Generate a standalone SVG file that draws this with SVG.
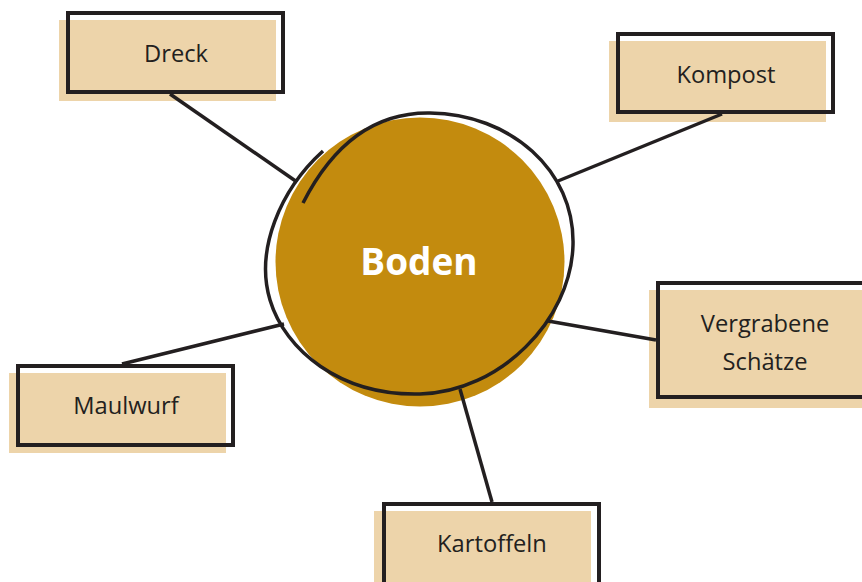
<svg xmlns="http://www.w3.org/2000/svg" width="862" height="582" viewBox="0 0 862 582">
<style>
.bg{fill:#EDD4AA}
.ol{fill:none;stroke:#231F20;stroke-width:4}
.t{font-family:"Open Sans","Liberation Sans",sans-serif;font-size:23.7px;fill:#231F20;text-anchor:middle}
.c{stroke:#231F20;stroke-width:3.5;fill:none}
</style>
<rect width="862" height="582" fill="#fff"/>
<g id="boden">
<circle cx="420" cy="262" r="144.5" fill="#C38B0E"/>
<path class="c" d="M303,203 C330,150 370,112 430,113 C510,114 575,170 573,245 C571,320 500,392 420,394 C340,396 285,350 270,300 C255,250 280,190 323,151"/>
<text x="419" y="275" font-family="'Open Sans','Liberation Sans',sans-serif" font-size="37" font-weight="bold" fill="#fff" text-anchor="middle">Boden</text>
</g>
<g id="dreck">
<rect class="bg" x="59" y="20" width="217" height="81"/>
<rect class="ol" x="68" y="13" width="215" height="79"/>
<text class="t" x="176" y="62">Dreck</text>
</g>
<g id="kompost">
<rect class="bg" x="609" y="41" width="217" height="81"/>
<rect class="ol" x="618" y="34" width="215" height="78"/>
<text class="t" x="726" y="83">Kompost</text>
</g>
<g id="vergrabene">
<rect class="bg" x="649" y="290" width="217" height="118"/>
<rect class="ol" x="658" y="283" width="215" height="114"/>
<text class="t" x="765" y="332">Vergrabene</text>
<text class="t" x="765" y="370">Schätze</text>
</g>
<g id="maulwurf">
<rect class="bg" x="9" y="373" width="217" height="80"/>
<rect class="ol" x="18" y="366" width="215" height="79"/>
<text class="t" x="126" y="414">Maulwurf</text>
</g>
<g id="kartoffeln">
<rect class="bg" x="374" y="511" width="217" height="80"/>
<rect class="ol" x="384" y="504" width="215" height="90"/>
<text class="t" x="492" y="552">Kartoffeln</text>
</g>
<g id="connectors">
<line class="c" x1="170" y1="94" x2="297" y2="182"/>
<line class="c" x1="722" y1="114" x2="558" y2="181"/>
<line class="c" x1="122" y1="364" x2="284" y2="324"/>
<line class="c" x1="548" y1="321" x2="656" y2="340"/>
<line class="c" x1="460" y1="389" x2="492" y2="502"/>
</g>
</svg>
